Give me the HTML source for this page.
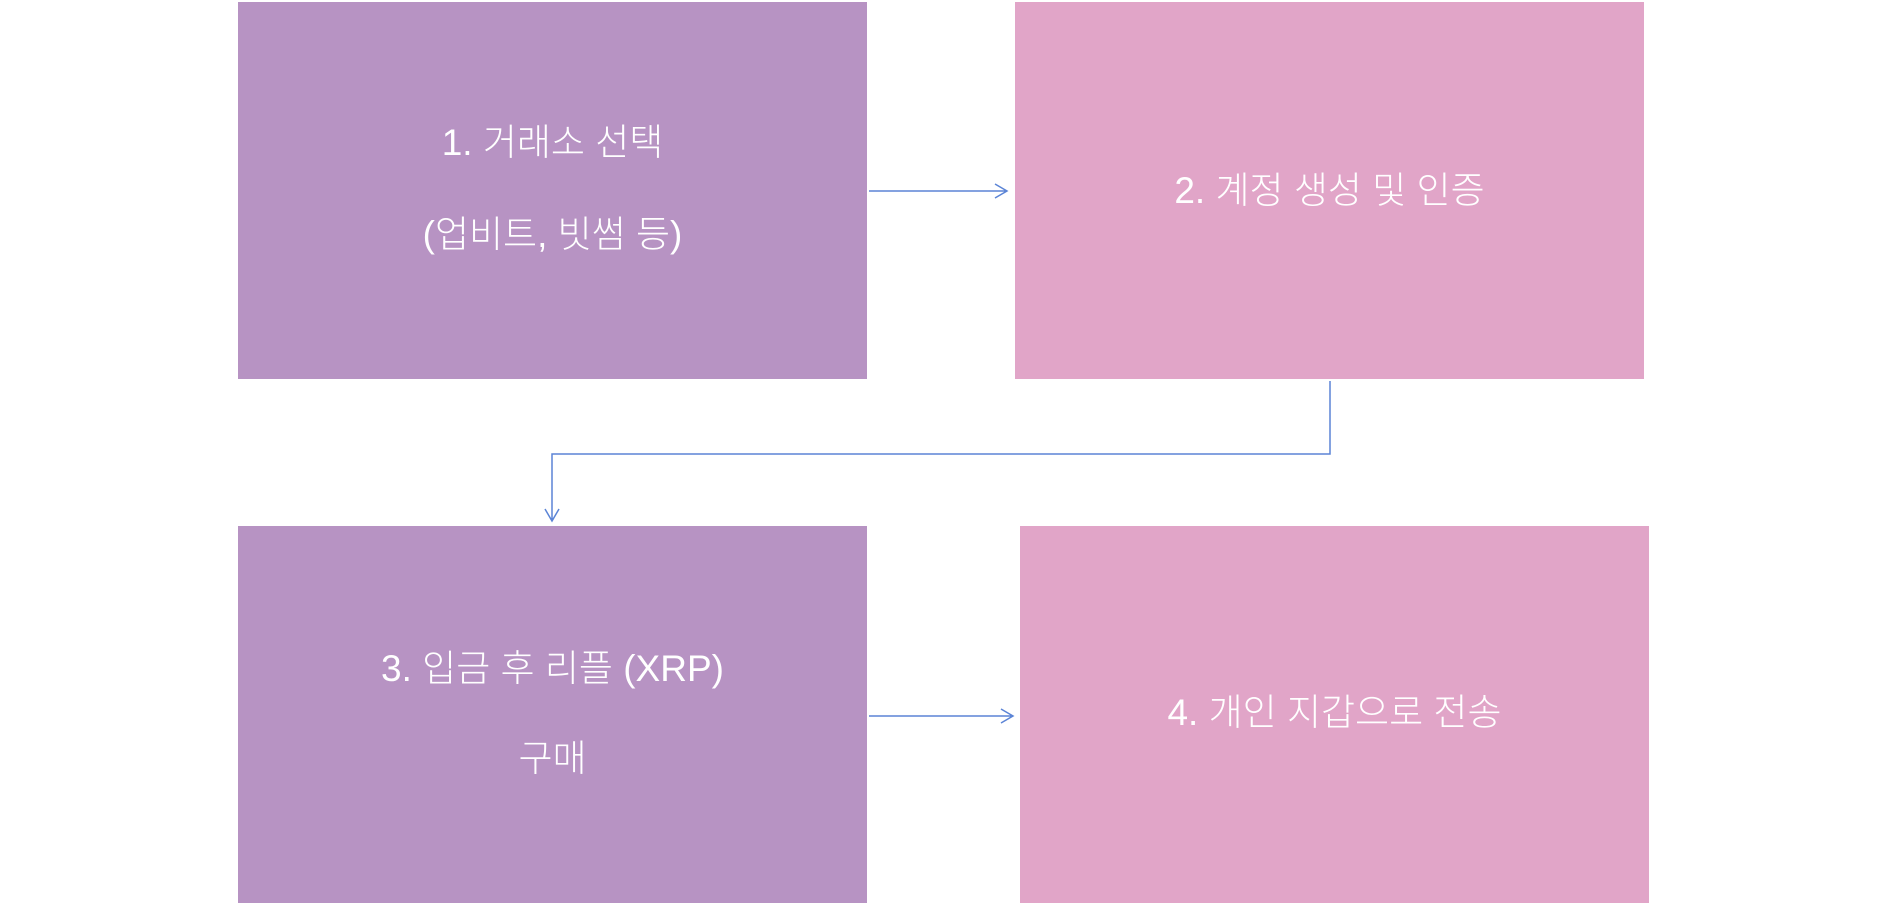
<!DOCTYPE html>
<html><head><meta charset="utf-8"><style>
body{margin:0;width:1882px;height:906px;background:#fff;position:relative;overflow:hidden;font-family:"Liberation Sans","Noto Sans CJK KR",sans-serif;}
.b{position:absolute;color:#fff;font-size:37px;font-weight:300;text-align:center;}
.t{position:absolute;left:0;right:0;line-height:1;white-space:nowrap;}
</style></head><body>
<div class="b" style="left:238px;top:2px;width:629px;height:377px;background:#b793c3">
<div class="t" style="top:122px">1. 거래소 선택</div>
<div class="t" style="top:214px">(업비트, 빗썸 등)</div></div>
<div class="b" style="left:1015px;top:2px;width:629px;height:377px;background:#e1a5c8">
<div class="t" style="top:170px">2. 계정 생성 및 인증</div></div>
<div class="b" style="left:238px;top:526px;width:629px;height:377px;background:#b793c3">
<div class="t" style="top:124px">3. 입금 후 리플 (XRP)</div>
<div class="t" style="top:214px">구매</div></div>
<div class="b" style="left:1020px;top:526px;width:629px;height:377px;background:#e1a5c8">
<div class="t" style="top:168px">4. 개인 지갑으로 전송</div></div>
<svg width="1882" height="906" style="position:absolute;left:0;top:0" fill="none" stroke="#5b84d6" stroke-width="1.5">
<path d="M869 191H1007M995 184L1007 191L995 198"/>
<path d="M1330 381V454H552V521M545 509L552 521L559 509"/>
<path d="M869 716H1013M1001 709L1013 716L1001 723"/>
</svg>
</body></html>
